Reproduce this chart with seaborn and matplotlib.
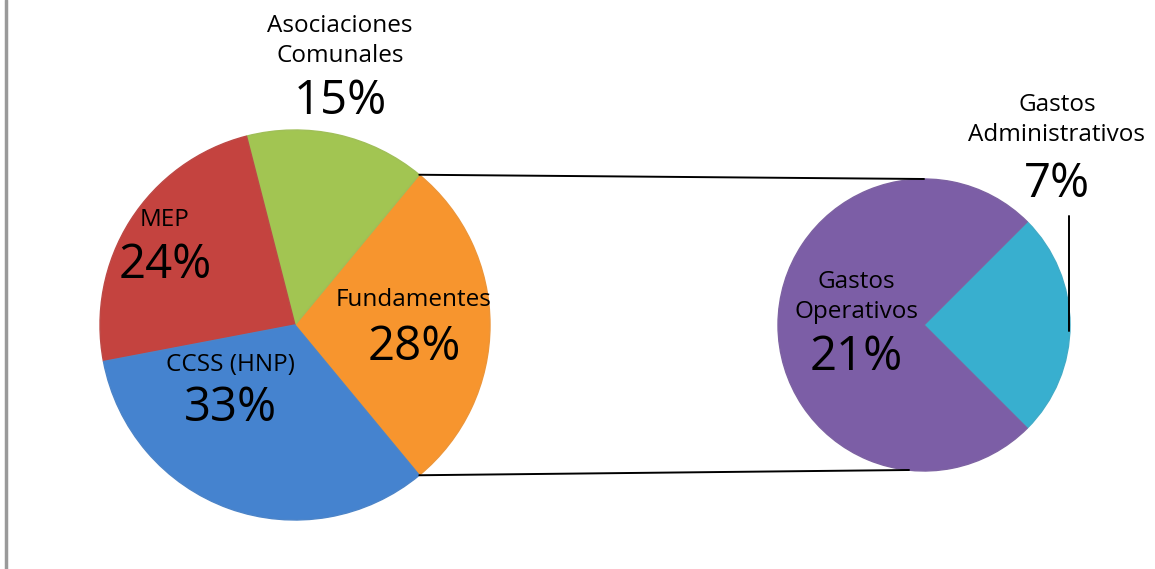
import numpy as np
import matplotlib
matplotlib.use("Agg")
import matplotlib.pyplot as plt
import seaborn as sns

# ---- data ----
main_labels = ["Fundamentes", "Asociaciones\nComunales", "MEP", "CCSS (HNP)"]
main_values = [28, 15, 24, 33]
main_colors = ["#F7952E", "#A2C552", "#C4433F", "#4583CF"]

sub_labels = ["Gastos\nAdministrativos", "Gastos\nOperativos"]
sub_values = [7, 21]
sub_colors = ["#38AFCF", "#7C5EA6"]

sns.set_theme(style="white")
plt.rcParams["font.family"] = ["Open Sans", "DejaVu Sans"]

W, H = 1155, 569
fig = plt.figure(figsize=(W / 100, H / 100), dpi=100)
ax = fig.add_axes([0, 0, 1, 1])

# layout
c1, r1 = (295, 244), 195
c2, r2 = (924, 244), 146

start1 = -main_values[0] / sum(main_values) * 360 / 2
wedges1, _ = ax.pie(main_values, colors=main_colors, startangle=start1, counterclock=True,
                    center=c1, radius=r1, frame=True)
start2 = -sub_values[0] / sum(sub_values) * 360 / 2
wedges2, _ = ax.pie(sub_values, colors=sub_colors, startangle=start2, counterclock=True,
                    center=c2, radius=r2, frame=True)
ax.set_xlim(0, W)
ax.set_ylim(0, H)
ax.set_aspect("equal")
ax.axis("off")

# subtle darker rims for depth
for w, col in zip(list(wedges1) + list(wedges2), main_colors + sub_colors):
    w.set_edgecolor(sns.desaturate(col, 0.9))
    w.set_linewidth(1.0)

# connector lines from the "Fundamentes" wedge to the secondary pie
t1 = np.deg2rad(wedges1[0].theta2)
t0 = np.deg2rad(wedges1[0].theta1)
ax.plot([c1[0] + r1 * np.cos(t1), c2[0]], [c1[1] + r1 * np.sin(t1), c2[1] + r2],
        color="black", lw=1.4)
ax.plot([c1[0] + r1 * np.cos(t0), c2[0] - 15], [c1[1] + r1 * np.sin(t0), c2[1] - r2 + 1],
        color="black", lw=1.4)

# leader line for small slice
ax.plot([1069, 1069], [H - 216, H - 331], color="black", lw=1.4)

# frame border on the left
ax.plot([6, 6], [0, H], color="#9A9A9A", lw=2.5)

small, big = 17.5, 34
label_pos = {
    main_labels[0]: (414, H - 300, H - 347),
    main_labels[1]: (340, H - 41, H - 101),
    main_labels[2]: (165, H - 220, H - 265),
    main_labels[3]: (230, H - 365, H - 408),
    sub_labels[0]: (1057, H - 120, H - 184),
    sub_labels[1]: (856, H - 297, H - 357),
}
for lab, val in zip(main_labels + sub_labels, main_values + sub_values):
    x, y1, y2 = label_pos[lab]
    ax.text(x, y1, lab, ha="center", va="center", fontsize=small, color="black",
            linespacing=1.3)
    ax.text(x, y2, f"{val}%", ha="center", va="center", fontsize=big, color="black")

fig.savefig("out.png", dpi=100)
